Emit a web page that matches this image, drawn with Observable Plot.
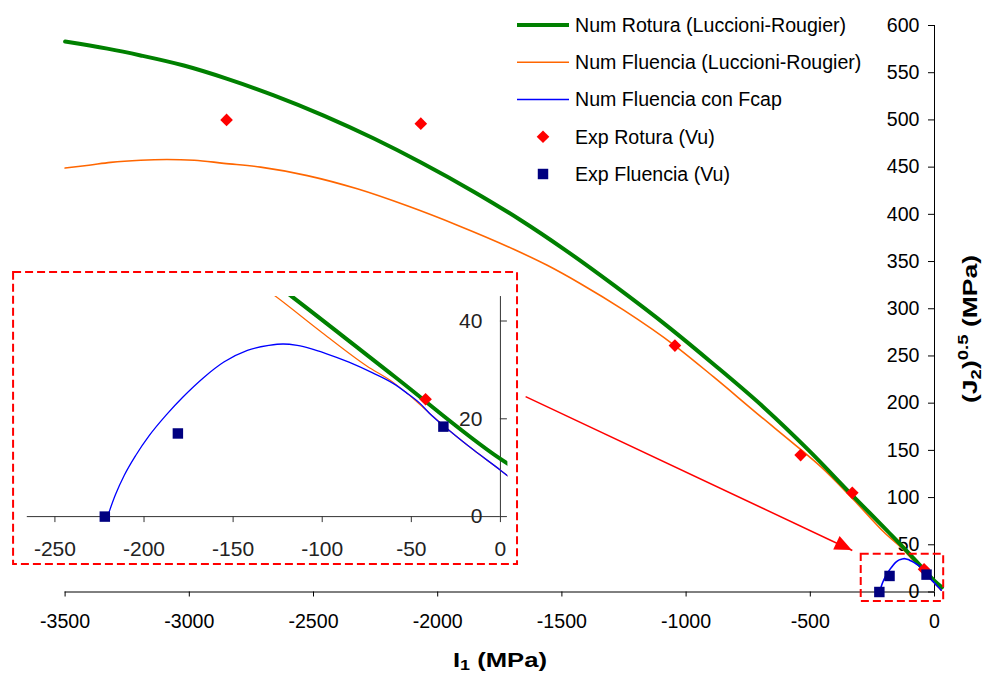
<!DOCTYPE html>
<html><head><meta charset="utf-8">
<script src="https://cdn.jsdelivr.net/npm/d3@7"></script>
<script src="https://cdn.jsdelivr.net/npm/@observablehq/plot@0.6"></script>
<style>
body{margin:0;background:#fff;}
#chart{position:relative;width:985px;height:673px;overflow:hidden;background:#fff;}
#chart svg{display:block;}
</style></head><body><div id="chart"></div>
<script>
// ---------- data ----------
const xTicks = [-3500, -3000, -2500, -2000, -1500, -1000, -500, 0];
const yTicks = [0, 50, 100, 150, 200, 250, 300, 350, 400, 450, 500, 550, 600];
const insetXTicks = [-250, -200, -150, -100, -50, 0];
const insetYTicks = [0, 20, 40];

const roturaI1 = [-3500,-3330,-3196,-3022,-2847,-2660,-2459,-2257,-2069,-1855,-1667,-1492,-1291,-1063,-888,-687,-506,-325,-190,-117,-60,0,30];
const roturaJ2 = [583,575.5,568.3,557.6,543.5,526,504.6,480.3,455.2,424,394,363.2,325,279,241,195.5,150,100.8,64.8,45,28.8,11.8,5];

const fluenciaI1 = [-3500,-3404,-3317,-3196,-3090,-2980,-2861,-2713,-2525,-2324,-2123,-1921,-1694,-1559,-1425,-1251,-1043,-888,-714,-539,-459,-325,-200,-126,-100,-75,-60,-53,-40,-28,-15,0,10,27];
const fluenciaJ2 = [449,452,455,457.3,458,457.3,454,450,441,427,409,388.5,363,346,326.5,298.5,260.5,227.5,189,151,133,97.5,62.5,45,37.6,30.8,27.4,25.4,21.2,17.4,13.6,9.5,6.6,2];

const fcapI1 = [-220.5,-216,-211,-204.5,-197,-187.5,-178,-166.6,-155.2,-142,-130,-122,-114,-106,-98.3,-85,-71.7,-60,-53,-45,-40,-28,-15,0,10,27];
const fcapJ2 = [0,4.5,8.5,12.6,16.6,20.8,24.5,28.4,31.6,34,35,35.3,35,34.3,33.4,31.6,29.4,27.2,25.4,23.1,21.2,17.4,13.6,9.5,6.6,2];

const expRoturaI1 = [-2850, -2068, -1045, -539, -331, -42];
const expRoturaJ2 = [500, 496, 261, 145, 105, 24];
const expFluenciaI1 = [-222, -181, -32];
const expFluenciaJ2 = [0, 17, 18.4];

const seriesNames = ["Num Rotura (Luccioni-Rougier)", "Num Fluencia (Luccioni-Rougier)", "Num Fluencia con Fcap", "Exp Rotura (Vu)", "Exp Fluencia (Vu)"];

// annotation anchors (data units)
const zoomBoxI1 = [-295, 37];
const zoomBoxJ2 = [-10, 40];
const arrowFromI1J2 = [-1646, 207];
const arrowToI1J2 = [-331, 44];
const insetBoxI1 = [-273.2, 9.6];
const insetBoxJ2 = [-9.8, 49.9];
const insetDomainI1 = [-265.5, 4.2];
const insetDomainJ2 = [0, 45];

// ---------- tables ----------
const zip = (xs, ys) => xs.map((x, i) => ({x, y: ys[i]}));
const rotura = zip(roturaI1, roturaJ2);
const fluencia = zip(fluenciaI1, fluenciaJ2);
const fcap = zip(fcapI1, fcapJ2);
const expRot = zip(expRoturaI1, expRoturaJ2);
const expFlu = zip(expFluenciaI1, expFluenciaJ2);

const FONT = '"Liberation Sans", Arial, sans-serif';
const GREEN = "#008000", ORANGE = "#FF6600", BLUE = "#0000FF", RED = "#FF0000", NAVY = "#000080";
const CURVE = "monotone-x";
const FS = 19.6;

const W = 985, H = 673;
const main = Plot.plot({
  width: W, height: H,
  marginLeft: 64.6, marginRight: 51, marginTop: 25, marginBottom: 81.5,
  style: {fontFamily: FONT, background: "white", overflow: "visible", color: "black"},
  x: {domain: [xTicks[0], xTicks[xTicks.length - 1]], axis: null},
  y: {domain: [yTicks[0], yTicks[yTicks.length - 1]], axis: null},
  marks: [
    Plot.ruleY([0], {stroke: "black", strokeWidth: 1}),
    Plot.ruleX([0], {stroke: "black", strokeWidth: 1}),
    Plot.ruleX(xTicks, {y1: 0, y2: 0, insetBottom: -5, stroke: "black"}),
    Plot.text(xTicks, {x: d => d, y: 0, text: d => String(d), lineAnchor: "top", dy: 22, fontSize: FS, fill: "black"}),
    Plot.ruleY(yTicks, {x1: 0, x2: 0, insetLeft: -6, stroke: "black"}),
    Plot.text(yTicks, {x: 0, y: d => d, text: d => String(d), textAnchor: "end", dx: -15, fontSize: FS, fill: "black"}),
    Plot.line(fluencia, {x: "x", y: "y", stroke: ORANGE, strokeWidth: 1.6, curve: CURVE}),
    Plot.line(rotura, {x: "x", y: "y", stroke: GREEN, strokeWidth: 4, curve: CURVE}),
    Plot.line(fcap, {x: "x", y: "y", stroke: BLUE, strokeWidth: 1.6, curve: CURVE}),
    Plot.dot(expRot, {x: "x", y: "y", symbol: "diamond2", r: 5.7, fill: RED, stroke: "none"}),
    Plot.dot(expFlu, {x: "x", y: "y", symbol: "square", r: 5.9, fill: NAVY, stroke: "none"}),
    Plot.rect([{x1: zoomBoxI1[0], x2: zoomBoxI1[1], y1: zoomBoxJ2[0], y2: zoomBoxJ2[1]}],
      {x1: "x1", x2: "x2", y1: "y1", y2: "y2", fill: "none", stroke: RED, strokeWidth: 2, strokeDasharray: "8,4"}),
    Plot.link([{x1: arrowFromI1J2[0], y1: arrowFromI1J2[1], x2: arrowToI1J2[0], y2: arrowToI1J2[1]}],
      {x1: "x1", y1: "y1", x2: "x2", y2: "y2", stroke: RED, strokeWidth: 1.5})
  ]
});

document.getElementById("chart").appendChild(main);

// scales
function scaleFn(plot, name) {
  const s = plot.scale(name);
  return s.apply ? (v => s.apply(v)) : d3.scaleLinear(s.domain, s.range);
}
const fx = scaleFn(main, "x"), fy = scaleFn(main, "y");
const svg = d3.select(main);

// arrow head (filled)
{
  const p0 = [fx(arrowFromI1J2[0]), fy(arrowFromI1J2[1])];
  const p1 = [fx(arrowToI1J2[0]), fy(arrowToI1J2[1])];
  const dx = p1[0] - p0[0], dy = p1[1] - p0[1], len = Math.hypot(dx, dy);
  const u = [dx / len, dy / len], n = [-u[1], u[0]];
  const hl = 17, hw = 7.5;
  const b = [p1[0] - hl * u[0], p1[1] - hl * u[1]];
  svg.append("path")
    .attr("d", `M${p1[0]},${p1[1]}L${b[0] + hw * n[0]},${b[1] + hw * n[1]}L${b[0] - hw * n[0]},${b[1] - hw * n[1]}Z`)
    .attr("fill", RED);
}

// legend
{
  const g = svg.append("g").attr("font-family", FONT).attr("font-size", FS).attr("fill", "black").attr("text-anchor", "start");
  const x0 = 517, x1 = 569, tx = 575, top = 25, step = 37.25;
  const kinds = [
    {type: "line", color: GREEN, w: 4},
    {type: "line", color: ORANGE, w: 1.6},
    {type: "line", color: BLUE, w: 1.6},
    {type: "diamond", color: RED},
    {type: "square", color: NAVY}
  ];
  kinds.forEach((k, i) => {
    const y = top + i * step;
    const cx = (x0 + x1) / 2;
    if (k.type === "line") {
      g.append("line").attr("x1", x0).attr("x2", x1).attr("y1", y).attr("y2", y).attr("stroke", k.color).attr("stroke-width", k.w);
    } else if (k.type === "diamond") {
      g.append("path").attr("d", d3.symbol(d3.symbolDiamond2, Math.PI * 5.7 * 5.7)()).attr("transform", `translate(${cx},${y})`).attr("fill", k.color);
    } else {
      g.append("path").attr("d", d3.symbol(d3.symbolSquare, Math.PI * 5.9 * 5.9)()).attr("transform", `translate(${cx},${y})`).attr("fill", k.color);
    }
    g.append("text").attr("x", tx).attr("y", y).attr("dy", "0.35em").attr("text-anchor", "start").text(seriesNames[i]);
  });
}

// axis titles
{
  const xt = svg.append("text").attr("x", 500).attr("y", 666.5).attr("text-anchor", "middle")
    .attr("font-family", FONT).attr("font-weight", "bold").attr("font-size", 20).attr("fill", "black")
    .attr("textLength", 94).attr("lengthAdjust", "spacingAndGlyphs");
  xt.append("tspan").text("I");
  xt.append("tspan").attr("font-size", 14).attr("dy", 3.5).text("1");
  xt.append("tspan").attr("dy", -3.5).text(" (MPa)");

  const yt = svg.append("text").attr("transform", "translate(977,329) rotate(-90)").attr("text-anchor", "middle")
    .attr("font-family", FONT).attr("font-weight", "bold").attr("font-size", 20).attr("fill", "black")
    .attr("textLength", 148).attr("lengthAdjust", "spacingAndGlyphs");
  yt.append("tspan").text("(J");
  yt.append("tspan").attr("font-size", 14).attr("dy", 4).text("2");
  yt.append("tspan").attr("dy", -4).text(")");
  yt.append("tspan").attr("font-size", 14).attr("dy", -9).text("0.5");
  yt.append("tspan").attr("dy", 9).text(" (MPa)");
}

// ---------- inset ----------
const IW = 504, IH = 292;
const inset = Plot.plot({
  width: IW, height: IH,
  marginLeft: 13.8, marginRight: 9.6, marginTop: 24.05, marginBottom: 47.9,
  style: {fontFamily: FONT, background: "transparent", overflow: "visible", color: "#222"},
  x: {domain: insetDomainI1, axis: null},
  y: {domain: insetDomainJ2, axis: null},
  marks: [
    Plot.rect([{x1: insetBoxI1[0], x2: insetBoxI1[1], y1: insetBoxJ2[0], y2: insetBoxJ2[1]}],
      {x1: "x1", x2: "x2", y1: "y1", y2: "y2", fill: "white", stroke: RED, strokeWidth: 2, strokeDasharray: "8,4"}),
    Plot.ruleY([0], {x1: insetDomainI1[0], x2: 0, stroke: "#333"}),
    Plot.ruleX([0], {y1: 0, y2: insetDomainJ2[1], stroke: "#333"}),
    Plot.ruleX(insetXTicks, {y1: 0, y2: 0, insetBottom: -6, stroke: "#333"}),
    Plot.ruleY(insetYTicks, {x1: 0, x2: 0, insetRight: -7, stroke: "#333"}),
    Plot.text(insetXTicks, {x: d => d, y: 0, text: d => String(d), lineAnchor: "top", dy: 24.7, fontSize: 21, fill: "#222"}),
    Plot.text(insetYTicks, {x: 0, y: d => d, text: d => String(d), textAnchor: "end", dx: -18, fontSize: 21, fill: "#222"}),
    Plot.line(fluencia, {x: "x", y: "y", stroke: ORANGE, strokeWidth: 1.2, curve: CURVE, clip: true}),
    Plot.line(rotura, {x: "x", y: "y", stroke: GREEN, strokeWidth: 4, curve: CURVE, clip: true}),
    Plot.line(fcap, {x: "x", y: "y", stroke: BLUE, strokeWidth: 1.3, curve: CURVE, clip: true}),
    Plot.dot(expRot, {x: "x", y: "y", symbol: "diamond2", r: 5.7, fill: RED, stroke: "none"}),
    Plot.dot(expFlu, {x: "x", y: "y", symbol: "square", r: 5.9, fill: NAVY, stroke: "none"})
  ]
});
inset.style.position = "absolute";
inset.style.left = "12.8px";
inset.style.top = "271.8px";
document.getElementById("chart").appendChild(inset);
</script></body></html>
